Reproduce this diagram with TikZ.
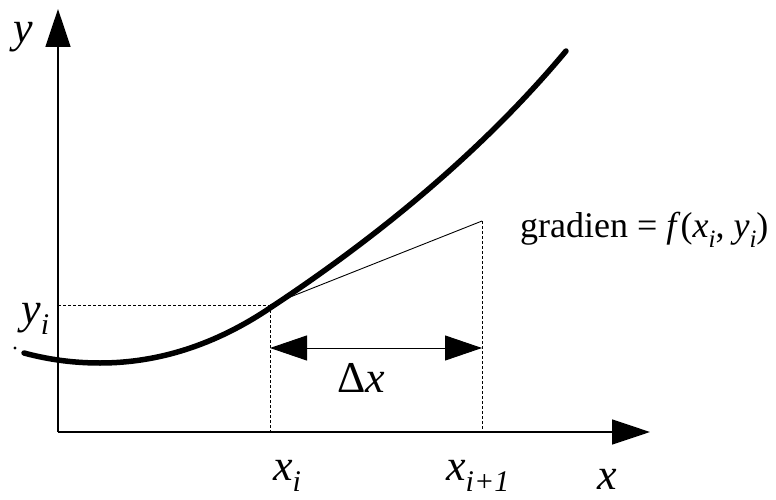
\documentclass[tikz,border=0pt]{standalone}
\usepackage{fontspec}
\setmainfont{Liberation Serif}
\usetikzlibrary{arrows.meta}
\newcommand\lbl[2]{\textit{#1}\raisebox{-0.26em}{\fontsize{30}{30}\selectfont\textit{#2}}}
\newcommand\lbs[2]{\textit{#1}\raisebox{-0.28em}{\fontsize{25}{25}\selectfont\textit{#2}}}
\tikzset{
  axis/.style={line width=1.5pt, -{Triangle[length=38pt,width=25pt]}},
  dim/.style={line width=1pt, {Triangle[length=37pt,width=25pt]}-{Triangle[length=37pt,width=25pt]}},
  guide/.style={line width=0.9pt, dash pattern=on 3pt off 2pt},
  curve/.style={line width=5.5pt, line cap=round},
  thin/.style={line width=0.9pt},
  big/.style={inner sep=0pt, anchor=base west, font=\fontsize{44}{44}\selectfont},
  mid/.style={inner sep=0pt, anchor=base west, font=\fontsize{36}{36}\selectfont}
}
\begin{document}
\begin{tikzpicture}[x=1pt,y=-1pt]
\useasboundingbox (0,0) rectangle (776,500);
\coordinate (O) at (58,432);
\coordinate (Ytip) at (58,9);
\coordinate (Xtip) at (650,432);
\coordinate (P) at (270,305);
\coordinate (Py) at (58,305);
\coordinate (Pe) at (278,305);
\coordinate (Px) at (270,432);
\coordinate (T) at (482,221);
\coordinate (Tx) at (482,432);
\coordinate (Dl) at (270,348);
\coordinate (Dr) at (482,348);
\coordinate (S) at (24,353);
\coordinate (M) at (100,363);
\coordinate (A) at (270,308);
\coordinate (E) at (566,51);
% guides
\draw[guide] (Py) -- (Pe);
\draw[guide] (P) -- (Px);
\draw[guide] (T) -- (Tx);
% tangent
\draw[thin] (P) -- (T);
% axes
\draw[axis] (O) -- (Ytip);
\draw[axis] (O) -- (Xtip);
% delta x
\draw[dim] (Dl) -- (Dr);
% curve
\draw[curve] (S) .. controls (50,360) and (75,363) .. (M)
  .. controls (158,363) and (215,345) .. (A)
  .. controls (391,228) and (490,142) .. (E);
\fill (15,348) circle (1.6pt);
% labels
\node[big] (ly) at (13,43) {\textit{y}};
\node[big] (lyi) at (21,323) {\lbl{y}{i}};
\node[big] (lxi) at (273,480) {\lbl{x}{i}};
\node[big] (lxi1) at (446,480) {\lbl{x}{i+1}};
\node[big] (lx) at (597,489) {\textit{x}};
\node[big] (ldx) at (337,392) {Δ\textit{x}};
\node[mid] (lg) at (520,237) {gradien = \textit{f}(\lbs{x}{i}, \lbs{y}{i})};
\end{tikzpicture}
\end{document}
